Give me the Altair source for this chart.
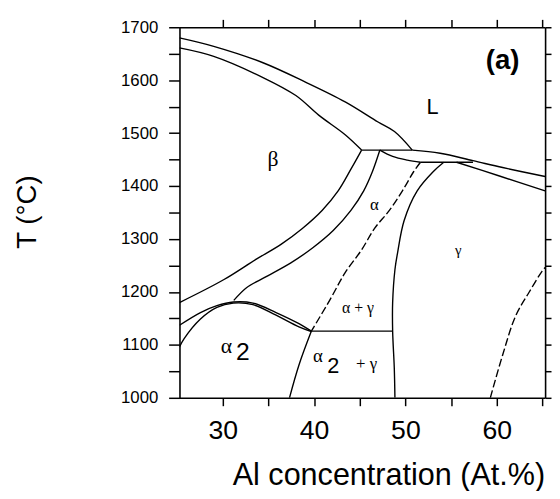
import altair as alt
import pandas as pd

# ---------------- data: phase boundaries (Al at.%, T in °C) ----------------
X_DOMAIN = [25.25, 65.3]
T_DOMAIN = [1000, 1700]

liquidus_beta_x = [25.25, 29.0, 34.4, 39.1, 43.4, 47.0, 48.8, 50.75]
liquidus_beta_T = [1680, 1664, 1633, 1596, 1559, 1521, 1503, 1468]

liquidus_right_x = [50.75, 53.8, 57.4, 60.65, 65.3]
liquidus_right_T = [1468, 1462, 1448, 1435, 1418]

beta_solidus_x = [25.25, 29.0, 34.4, 38.0, 40.5, 43.4, 45.2]
beta_solidus_T = [1661, 1645, 1605, 1571, 1534, 1497, 1468]

peritectic1_x = [45.2, 50.75]
peritectic1_T = [1468, 1468]

alpha_solidus_x = [47.2, 48.6, 50.2, 51.65]
alpha_solidus_T = [1468, 1456, 1449, 1445]

peritectic2_x = [51.65, 57.4]
peritectic2_T = [1445, 1445]

gamma_solidus_x = [55.6, 60.3, 65.3]
gamma_solidus_T = [1445, 1419, 1391]

beta_transus_x = [45.2, 44.03, 42.63, 40.87, 38.71, 36.37, 33.67, 30.08, 25.25]
beta_transus_T = [1468, 1432, 1391, 1354, 1320, 1290, 1262, 1223, 1180]

alpha_transus_x = [47.2, 46.40, 45.43, 44.03, 42.09, 39.82, 37.45, 34.75, 32.59, 31.2]
alpha_transus_T = [1468, 1428, 1391, 1354, 1316, 1283, 1255, 1229, 1208, 1184]

alpha_gamma_x = [51.65, 50.93, 49.67, 48.24, 46.62, 45.18, 43.38, 41.76, 39.7]
alpha_gamma_T = [1445, 1428, 1391, 1354, 1320, 1279, 1236, 1186, 1126]

gamma_x = [54.2, 53.09, 51.29, 49.86, 49.13, 48.85, 48.6, 48.6, 48.78, 48.85]
gamma_T = [1445, 1428, 1391, 1335, 1273, 1242, 1180, 1126, 1056, 1000]

eutectoid_x = [39.7, 48.6]
eutectoid_T = [1126, 1126]

alpha2_gamma_x = [39.7, 38.34, 37.3]
alpha2_gamma_T = [1126, 1062, 1000]

dome_upper_x = [25.25, 27.55, 29.35, 31.15, 33.3, 35.83, 38.34, 39.7]
dome_upper_T = [1137, 1161, 1174, 1181, 1179, 1161, 1140, 1126]

dome_lower_x = [25.25, 25.76, 27.55, 29.35, 31.15, 33.3, 35.83, 38.34, 39.7]
dome_lower_T = [1096, 1112, 1149, 1171, 1179, 1176, 1156, 1134, 1125]

gamma_right_x = [59.3, 60.65, 62.08, 63.53, 64.96, 65.3]
gamma_right_T = [1000, 1081, 1155, 1199, 1239, 1246]

x_ticks = [30, 35, 40, 45, 50, 55, 60, 65]
T_ticks = list(range(1000, 1701, 50))

label_text = ["(a)", "L", "β", "α", "γ", "α + γ", "α", "2", "α", "2", "+ γ"]
label_x = [60.65, 52.98, 35.5, 46.6, 55.8, 44.8, 30.4, 32.2, 40.4, 42.1, 45.75]
label_T = [1637, 1549, 1451, 1365, 1279, 1169, 1097, 1086, 1078, 1060, 1063]

# ---------------- build table ----------------
curves = {
    "liquidus_beta": (liquidus_beta_x, liquidus_beta_T),
    "liquidus_right": (liquidus_right_x, liquidus_right_T),
    "beta_solidus": (beta_solidus_x, beta_solidus_T),
    "peritectic1": (peritectic1_x, peritectic1_T),
    "alpha_solidus": (alpha_solidus_x, alpha_solidus_T),
    "peritectic2": (peritectic2_x, peritectic2_T),
    "gamma_solidus": (gamma_solidus_x, gamma_solidus_T),
    "beta_transus": (beta_transus_x, beta_transus_T),
    "alpha_transus": (alpha_transus_x, alpha_transus_T),
    "alpha_gamma": (alpha_gamma_x, alpha_gamma_T),
    "gamma": (gamma_x, gamma_T),
    "eutectoid": (eutectoid_x, eutectoid_T),
    "alpha2_gamma": (alpha2_gamma_x, alpha2_gamma_T),
    "dome_upper": (dome_upper_x, dome_upper_T),
    "dome_lower": (dome_lower_x, dome_lower_T),
    "gamma_right": (gamma_right_x, gamma_right_T),
}
dashed_curves = {"alpha_gamma", "gamma_right"}

rows = []
for name, (xs_, ts_) in curves.items():
    for i, (xv, tv) in enumerate(zip(xs_, ts_)):
        rows.append({"line": name, "i": i, "x": xv, "T": tv,
                     "dashed": name in dashed_curves})
df = pd.DataFrame(rows)

xscale = alt.Scale(domain=X_DOMAIN, nice=False, zero=False)
yscale = alt.Scale(domain=T_DOMAIN, nice=False, zero=False)

FONT = "Liberation Sans"
axis_common = dict(grid=False, domainColor="black", domainWidth=1.6,
                   tickColor="black", tickWidth=1.5, labelColor="black",
                   titleColor="black", labelFont=FONT, titleFont=FONT,
                   titleFontWeight="normal")

x_bottom = alt.Axis(orient="bottom", values=x_ticks, format="d",
                    labelExpr="datum.value % 10 == 0 ? datum.label : ''",
                    tickSize=8, labelPadding=12, labelFontSize=27,
                    title="Al concentration (At.%)", titleFontSize=31,
                    titleX=212, titleY=88, titleBaseline="alphabetic",
                    titleAnchor="middle", **axis_common)
y_left = alt.Axis(orient="left", values=T_ticks, format="d",
                  labelExpr="datum.value % 100 == 0 ? datum.label : ''",
                  tickSize=11, labelPadding=11, labelFontSize=17,
                  title="T (°C)", titleFontSize=28, titleX=-146, titleY=187,
                  titleBaseline="alphabetic", titleAngle=270, **axis_common)
x_top = alt.Axis(orient="top", values=x_ticks, labels=False, tickSize=8,
                 title="", **axis_common)
y_right = alt.Axis(orient="right", values=T_ticks, labels=False, tickSize=6,
                   title="", **axis_common)

solid = alt.Chart(df).transform_filter("!datum.dashed").mark_line(
    color="black", strokeWidth=1.4, clip=True, interpolate="catmull-rom"
).encode(
    x=alt.X("x:Q", scale=xscale, axis=x_bottom),
    y=alt.Y("T:Q", scale=yscale, axis=y_left),
    detail="line:N",
    order="i:Q",
)

dashed = alt.Chart(df).transform_filter("datum.dashed").mark_line(
    color="black", strokeWidth=1.4, strokeDash=[8, 3], clip=True,
    interpolate="catmull-rom"
).encode(
    x=alt.X("x:Q", scale=xscale, axis=None),
    y=alt.Y("T:Q", scale=yscale, axis=None),
    detail="line:N",
    order="i:Q",
)

frame = alt.Chart(pd.DataFrame({"x": [x_ticks[0]], "T": [T_ticks[0]]})).mark_point(
    opacity=0
).encode(
    x=alt.X("x:Q", scale=xscale, axis=x_top),
    y=alt.Y("T:Q", scale=yscale, axis=y_right),
)

label_styles = [
    dict(font=FONT, fontSize=28, fontWeight="bold"),
    dict(font=FONT, fontSize=22),
    dict(font="Liberation Serif", fontSize=22),
    dict(font="Liberation Serif", fontSize=17),
    dict(font="Liberation Serif", fontSize=15),
    dict(font="Liberation Serif", fontSize=16),
    dict(font="Liberation Serif", fontSize=22),
    dict(font=FONT, fontSize=25),
    dict(font="Liberation Serif", fontSize=19),
    dict(font=FONT, fontSize=22),
    dict(font="Liberation Serif", fontSize=17),
]

texts = []
for i, t in enumerate(label_text):
    ldf = pd.DataFrame({"t": [t], "x": [label_x[i]], "T": [label_T[i]]})
    texts.append(
        alt.Chart(ldf).mark_text(color="black", align="center", baseline="middle",
                                 **label_styles[i]).encode(
            x=alt.X("x:Q", scale=xscale, axis=None),
            y=alt.Y("T:Q", scale=yscale, axis=None),
            text="t:N",
        )
    )

chart = alt.layer(solid, frame, dashed, *texts).resolve_axis(
    x="independent", y="independent"
).properties(
    width=371, height=376,
    padding={"left": 174, "top": 16, "right": 7, "bottom": 91},
    autosize="none",
    background="white",
).configure_view(strokeWidth=0)

chart.save("out.html", embed_options={"renderer": "svg", "actions": False})
